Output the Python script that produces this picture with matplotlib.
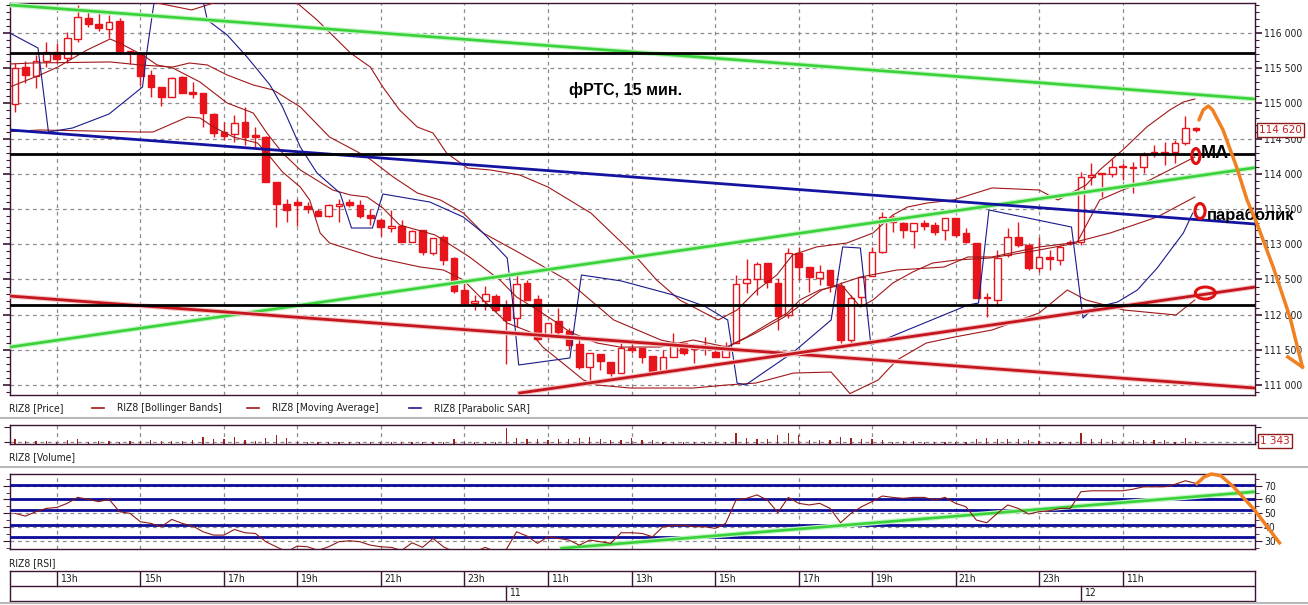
import matplotlib
matplotlib.use('Agg')
import matplotlib.pyplot as plt
from matplotlib import font_manager
from matplotlib.patches import Ellipse
from matplotlib.lines import Line2D
from matplotlib.ticker import MultipleLocator, FuncFormatter, FixedLocator

# ---------------- data ----------------
hour_pos = [4, 12, 20, 27, 35, 43, 51, 59, 67, 75, 82, 90, 98, 106]
hour_lbl = ['13h', '15h', '17h', '19h', '21h', '23h', '11h', '13h', '15h', '17h', '19h', '21h', '23h', '11h']
day_pos = [47, 102]
day_lbl = ['11', '12']

opens = [114992, 115517, 115389, 115602, 115730, 115645, 115915, 116213, 116128, 116057,
         116170, 115744, 115716, 115404, 115233, 115091, 115375, 115162, 115148, 114850,
         114594, 114566, 114736, 114552, 114523, 113884, 113572, 113600, 113543, 113472,
         113401, 113543, 113600, 113558, 113416, 113345, 113231, 113259, 113032, 113203,
         112876, 113103, 112805, 112350, 112166, 112194, 112265, 112123, 111953, 112450,
         112223, 111697, 111910, 111768, 111584, 111257, 111442, 111328, 111172, 111527,
         111527, 111413, 111172, 111400, 111598, 111541, 111570, 111470, 111400, 111598,
         112450, 112507, 112734, 112450, 111995, 112876, 112677, 112521, 112635, 112407,
         111641, 112251, 112549, 112890, 113387, 113302, 113188, 113302, 113274, 113203,
         113373, 113160, 113018, 112237, 112209, 112848, 113103, 112990, 112663, 112820,
         112777, 113018, 113032, 113955, 113998, 114000, 114097, 114083, 114097, 114300,
         114290, 114310, 114438, 114651]
highs = [115574, 115602, 115688, 115872, 115858, 116014, 116398, 116327, 116284, 116256,
         116213, 115744, 115716, 115475, 115233, 115375, 115389, 115304, 115148, 114864,
         114736, 114836, 114949, 114665, 114537, 113884, 113643, 113643, 113600, 113500,
         113572, 113643, 113643, 113629, 113501, 113373, 113487, 113345, 113203, 113203,
         113089, 113132, 112820, 112493, 112280, 112407, 112294, 112209, 112564, 112493,
         112280, 111882, 112095, 111811, 111655, 111456, 111442, 111328, 111598, 111655,
         111527, 111413, 111500, 111740, 111598, 111555, 111683, 111541, 111612, 112564,
         112791, 112748, 112734, 112521, 112947, 112962, 112677, 112706, 112635, 112464,
         112280, 112535, 112962, 113458, 113416, 113316, 113302, 113345, 113316, 113373,
         113373, 113231, 113018, 112308, 112919, 113231, 113316, 113018, 113103, 112919,
         112990, 113060, 114026, 114154, 114000, 114211, 114154, 114168, 114310, 114410,
         114452, 114481, 114821, 114665]
lows = [114878, 115290, 115219, 115517, 115574, 115574, 115872, 116085, 116028, 115929,
        115716, 115560, 115262, 115091, 114963, 115091, 115148, 115077, 114665, 114523,
        114481, 114452, 114410, 114381, 113884, 113245, 113316, 113259, 113444, 113401,
        113387, 113316, 113529, 113373, 113274, 113117, 113174, 113032, 113032, 112848,
        112848, 112706, 112307, 112152, 112067, 112067, 112038, 111300, 111825, 112209,
        111641, 111655, 111712, 111500, 111229, 111030, 111215, 111129, 111172, 111456,
        111314, 111143, 111172, 111400, 111428, 111314, 111428, 111400, 111400, 111598,
        112308, 112280, 112379, 111783, 111953, 112493, 112322, 112422, 112322, 111598,
        111570, 112123, 112549, 112876, 113174, 113089, 112947, 113203, 113132, 113061,
        113103, 113018, 112237, 111967, 112123, 112820, 112962, 112635, 112606, 112635,
        112706, 112990, 112990, 113842, 113671, 113955, 113913, 113729, 114012, 114239,
        114126, 114154, 114410, 114594]
closes = [115503, 115404, 115602, 115730, 115631, 115929, 116227, 116128, 116071, 116156,
          115744, 115716, 115389, 115233, 115091, 115361, 115148, 115134, 114864, 114580,
          114537, 114722, 114523, 114523, 113884, 113572, 113487, 113558, 113501, 113401,
          113558, 113572, 113558, 113401, 113373, 113245, 113259, 113032, 113188, 112890,
          113089, 112777, 112336, 112166, 112194, 112294, 112067, 111925, 112436, 112209,
          111655, 111882, 111754, 111570, 111257, 111456, 111342, 111172, 111527, 111500,
          111400, 111186, 111400, 111598, 111456, 111513, 111541, 111400, 111556, 112436,
          112507, 112720, 112464, 111981, 112876, 112677, 112535, 112606, 112422, 111641,
          112237, 112535, 112890, 113387, 113316, 113203, 113302, 113259, 113174, 113373,
          113132, 113032, 112237, 112251, 112805, 113103, 112990, 112663, 112820, 112791,
          112962, 113032, 113955, 113984, 114000, 114097, 114100, 114085, 114268, 114310,
          114300, 114438, 114651, 114620]

volume = [2100, 1500, 1500, 1500, 900, 1800, 2400, 900, 1500, 1500,
          900, 1500, 1400, 1800, 1500, 1500, 1500, 1800, 3300, 2100,
          2100, 3000, 1800, 1500, 2700, 4050, 2550, 900, 900, 900,
          900, 900, 900, 900, 900, 900, 900, 900, 900, 900,
          900, 900, 2100, 900, 900, 900, 900, 7350, 2550, 2100,
          2100, 1800, 2100, 2100, 2550, 3300, 2100, 1800, 1800, 2550,
          1800, 1800, 900, 900, 900, 900, 900, 900, 900, 4800,
          2550, 2100, 2100, 4050, 4800, 4050, 1800, 1800, 1800, 3300,
          2550, 2100, 2100, 1800, 900, 1500, 1500, 900, 900, 900,
          900, 900, 2100, 2550, 2100, 2100, 2100, 1800, 1500, 900,
          900, 900, 4800, 2100, 2100, 1800, 900, 1800, 1800, 1800,
          1800, 900, 2550, 1343]

rsi = [49.9, 47.9, 51.1, 53.5, 54.2, 57.2, 61.5, 60.1, 58.4, 60.1,
       51.1, 49.9, 43.8, 42.6, 40.2, 45.5, 42.6, 40.7, 36.5, 34.1,
       34.1, 38.2, 35.8, 35.3, 29.3, 25.6, 22.0, 26.1, 25.6, 23.0,
       25.6, 29.3, 30.0, 29.3, 26.8, 25.6, 25.2, 23.0, 28.5, 25.2,
       31.7, 25.6, 22.0, 21.0, 22.0, 25.2, 22.0, 23.5, 36.5, 33.4,
       28.1, 32.9, 31.7, 30.5, 26.8, 30.5, 29.3, 28.1, 35.8, 35.8,
       35.3, 32.9, 40.2, 41.0, 41.4, 40.2, 40.2, 39.0, 42.6, 59.6,
       60.8, 63.3, 59.6, 50.4, 61.5, 57.2, 56.0, 57.2, 53.5, 43.1,
       49.9, 54.7, 58.4, 62.5, 61.5, 60.8, 61.5, 61.5, 59.6, 61.5,
       57.2, 54.7, 45.0, 43.1, 49.9, 56.0, 53.5, 49.4, 51.1, 51.8,
       53.5, 53.5, 65.6, 66.3, 66.3, 66.3, 66.3, 67.5, 69.2, 69.2,
       69.2, 71.0, 73.6, 71.6]

# Bollinger bands, moving average, parabolic SAR (vertices of the drawn lines)
ub_x = [-0.5, 6, 11, 13.6, 16.9, 19, 22, 25, 27, 28.9, 32.1, 34, 35.2, 36.8, 38.5, 40, 41.3,
        43.3, 45.5, 48.3, 51, 55.1, 59.1, 61.4, 63.6, 67.3, 69.1, 71, 72.9, 74.4, 76.7, 79.6,
        82.1, 84, 85.4, 87.3, 89.8, 93.5, 98, 99.8, 102.5, 103.8, 106, 108.3, 110.5, 111.8, 112.9]
ub_y = [116700, 116650, 116550, 116426, 116327, 116426, 116700, 116700, 116426, 116185,
        115716, 115517, 115233, 114907, 114665, 114580, 114296, 114083, 114055, 113984,
        113813, 113444, 112876, 112493, 112209, 111925, 112067, 112351, 112564, 112848,
        112962, 113018, 113160, 113416, 113529, 113586, 113629, 113800, 113771, 113629,
        113842, 114055, 114339, 114665, 114907, 115020, 115063]
mb_x = [-0.5, 1.7, 9.1, 12, 15.1, 16.7, 18.4, 20.3, 22.8, 24.7, 27.3, 30.1, 33.7, 36.2, 38.5,
        40.7, 42.9, 44.8, 48.3, 52.8, 57.3, 61.8, 66.4, 68.2, 70.9, 73.6, 77.2, 80.9, 84.4,
        88.9, 91.2, 93.5, 98, 101.1, 104.8, 109.3, 112.9]
mb_y = [115560, 115574, 115589, 115546, 115517, 115574, 115546, 115404, 115262, 115191,
        114950, 114523, 114239, 113955, 113728, 113629, 113444, 113160, 112876, 112493,
        111925, 111641, 111499, 111541, 111740, 111967, 112351, 112535, 112635, 112677,
        112820, 112820, 112962, 113018, 113160, 113387, 113671]
lb_x = [-0.5, 2.4, 12, 13.2, 16.5, 17.7, 19, 20.9, 23.2, 24.1, 25.6, 27.3, 28.2, 29.2, 30.1,
        34.3, 38.8, 41, 42.9, 44.8, 47.1, 49.3, 50.5, 52.4, 54.4, 55.7, 58.9, 61.7, 64.9, 68.1,
        70.9, 74.5, 78.1, 79.9, 82.6, 84.4, 87.2, 89.9, 93.5, 98, 100.7, 102.5, 106.1, 111.1, 112.9]
lb_y = [114600, 114623, 114594, 114594, 114807, 114793, 114665, 114523, 114438, 114296,
        114026, 113813, 113629, 113160, 113018, 112819, 112677, 112635, 112493, 112209,
        111882, 111754, 111541, 111314, 111073, 111002, 110959, 110959, 110959, 111002,
        111030, 111172, 111186, 110880, 111073, 111357, 111598, 111683, 111783, 112024,
        112351, 112209, 112067, 111996, 112209]
ma_x = [-0.5, 2.4, 4.1, 6.9, 9.1, 10, 12.2, 13.6, 15.1, 17.7, 20.3, 22.8, 24.1, 25.6, 27.3,
        30.4, 32.1, 33.7, 35.2, 36.8, 38.5, 40.2, 43.5, 46.4, 48, 50, 51.9, 53.1, 55.7, 57.9,
        61.7, 64.9, 68.1, 70, 72.2, 73.9, 75.1, 77, 79.1, 80.9, 82.1, 84, 85.9, 87.8, 90.1,
        93.3, 98, 101.6, 103.8, 106, 108.6, 112.9]
ma_y = [115233, 115404, 115517, 115759, 115915, 115858, 115688, 115546, 115503, 115304,
        115006, 114864, 114580, 114296, 114055, 113771, 113700, 113671, 113515, 113274,
        113203, 113132, 112819, 112493, 112251, 112067, 111882, 111754, 111598, 111541,
        111541, 111641, 111541, 111683, 111882, 112024, 112209, 112351, 112422, 112109,
        112209, 112450, 112606, 112734, 112777, 112805, 112919, 113018, 113629, 113771,
        113913, 114239]
sar_x = [-0.5, 2.2, 3.2, 5.5, 9, 12.2, 12.6, 13.3, 14.5, 17.5, 18.4, 20.3, 22.2, 24.4, 25.6,
         27.3, 28.9, 31.1, 32.2, 34.2, 35.2, 39.7, 42.9, 44.8, 47.1, 47.6, 48.2, 53.1, 54.2,
         58, 63, 66, 68.2, 69.1, 69.9, 74.5, 78.1, 79.2, 80.9, 81.9, 91.2, 92.2, 93.2, 101.1,
         102.2, 103.2, 105.5, 107.4, 109.3, 110.8, 111.8, 112.7]
sar_y = [116000, 115787, 114594, 114651, 114850, 115233, 115716, 116426, 116800, 116800,
         116185, 115972, 115660, 115262, 114950, 114381, 114012, 113728, 113231, 113231,
         113714, 113600, 113387, 113160, 112805, 112209, 111286, 111386, 112564, 112480,
         112280, 112120, 111925, 111030, 111002, 111470, 111925, 112962, 112947, 111570,
         112138, 112166, 113487, 113245, 111953, 112095, 112180, 112351, 112663, 112962,
         113160, 113444]

# hand drawn lines
XL = (-0.48, 118.66)
green_hi = [116398, 115063]
green_lo = [111541, 114088]
blue_tl = [114623, 113288]
red_dn = [112265, 110959]
red_up_x = [48.3, 118.66]
red_up_y = [110888, 112393]
black_lv = [115710, 114282, 112145]
rsi_levels = [70.5, 60.3, 52.3, 41.2, 32.7]
rsi_green_x = [52.3, 118.66]
rsi_green_y = [24.5, 65.6]
orange_x = [113.3, 113.7, 114.2, 114.6, 115.6, 116.9, 117.9, 118.9, 120.4, 122.0, 123.2]
orange_y = [114765, 114907, 114964, 114907, 114623, 114097, 113629, 113274, 112677, 111967, 111257]
orange_rsi_x = [113.1, 113.8, 114.5, 115.4, 116.6, 118.6, 121.0]
orange_rsi_y = [71.6, 76.4, 78.5, 77.2, 69.2, 52.5, 28.5]

# ---------------- style ----------------
W, H = 1308, 605
RED = '#e8141c'
THIN = '#a01818'
FRAME = '#3c1434'
GRIDKW = dict(color='#8c8c8c', lw=0.9, ls=(0, (3, 3)), zorder=0.5)

names = {f.name for f in font_manager.fontManager.ttflist}
if 'Liberation Sans Narrow' in names:
    SMALL = dict(family='Liberation Sans Narrow', size=9.5)
else:
    SMALL = dict(family='DejaVu Sans', stretch='condensed', size=7.5)
BOLD = dict(family='Liberation Sans', weight='bold')


def px_box(x0, y0, x1, y1):
    return [x0 / W, 1 - y1 / H, (x1 - x0) / W, (y1 - y0) / H]


def fx(px):
    return px / W


def fy(py):
    return 1 - py / H


def frame(a):
    for s in a.spines.values():
        s.set_color(FRAME)
        s.set_linewidth(1)


fig = plt.figure(figsize=(W / 100, H / 100), dpi=100)
fig.patch.set_facecolor('white')

# ---------------- price panel ----------------
ax = fig.add_axes(px_box(10, 3, 1255, 395))
ax.set_xlim(*XL)
ax.set_ylim(110860, 116426)
frame(ax)
for p in range(111000, 116001, 500):
    ax.axhline(p, **GRIDKW)
for t in hour_pos:
    ax.axvline(t, **GRIDKW)

for i in range(len(opens)):
    o, h, l, c = opens[i], highs[i], lows[i], closes[i]
    ax.vlines(i, l, h, color=RED, lw=1, zorder=2)
    body = max(abs(c - o), 14)
    fc = 'white' if c > o else RED
    ax.bar(i, body, bottom=min(o, c), width=0.64, facecolor=fc, edgecolor=RED, lw=1, zorder=3)

ax.plot(ub_x, ub_y, color=THIN, lw=0.8, zorder=4)
ax.plot(mb_x, mb_y, color=THIN, lw=0.8, zorder=4)
ax.plot(lb_x, lb_y, color=THIN, lw=0.8, zorder=4)
ax.plot(ma_x, ma_y, color=THIN, lw=0.8, zorder=4)
ax.plot(sar_x, sar_y, color='#1a1a8c', lw=0.8, zorder=4)

# trend lines with a soft halo
ax.plot(XL, green_hi, color='#c4f5c4', lw=3.6, zorder=5)
ax.plot(XL, green_hi, color='#3ad23a', lw=1.9, zorder=5)
ax.plot(XL, green_lo, color='#c4f5c4', lw=3.6, zorder=5)
ax.plot(XL, green_lo, color='#3ad23a', lw=1.9, zorder=5)
ax.plot(XL, red_dn, color='#f5c4c4', lw=3.6, zorder=5)
ax.plot(XL, red_dn, color='#c4161e', lw=2.0, zorder=5)
ax.plot(red_up_x, red_up_y, color='#f5c4c4', lw=3.6, zorder=5)
ax.plot(red_up_x, red_up_y, color='#c4161e', lw=2.0, zorder=5)
ax.plot(XL, blue_tl, color='#1414a0', lw=2.0, zorder=5)
for p in black_lv:
    ax.axhline(p, color='black', lw=2.0, zorder=5)

ax.set_xticks([])
ax.yaxis.set_major_locator(MultipleLocator(500))
ax.yaxis.set_minor_locator(MultipleLocator(100))
ax.yaxis.set_major_formatter(FuncFormatter(lambda v, _: f'{int(v):,}'.replace(',', ' ')))
ax.tick_params(axis='y', which='both', left=True, right=True, labelleft=False, labelright=True,
               direction='out', color=FRAME, labelcolor='#1e1e1e', pad=1.5)
ax.tick_params(axis='y', which='major', length=5, width=1.2)
ax.tick_params(axis='y', which='minor', length=3, width=0.8)
for lab in ax.get_yticklabels():
    lab.set_fontfamily(SMALL['family'])
    lab.set_fontsize(SMALL['size'])
    if 'stretch' in SMALL:
        lab.set_fontstretch(SMALL['stretch'])

ax.text(1.003, 114620, '114 620', transform=ax.get_yaxis_transform(), ha='left', va='center',
        color='#c81e1e', fontsize=SMALL['size'], family=SMALL['family'], zorder=10, clip_on=False,
        bbox=dict(boxstyle='square,pad=0.2', fc='white', ec='#8b1a1a', lw=1))

# annotations
ax.text(53.0, 115191, 'фРТС, 15 мин.', fontsize=11.5, ha='left', va='center', zorder=8, **BOLD)
ax.text(113.5, 114296, 'MA', fontsize=13, ha='left', va='center', zorder=8, clip_on=False, **BOLD)
ax.text(114.07, 113416, 'параболик', fontsize=12, ha='left', va='center', zorder=8, clip_on=False, **BOLD)
for cx, cy, ew, eh in [(113.0, 114253, 0.77, 213), (113.4, 113472, 0.96, 213), (113.9, 112308, 1.9, 170)]:
    ax.add_patch(Ellipse((cx, cy), ew, eh, fill=False, ec='#e01010', lw=2.2, zorder=9, clip_on=False))
ax.plot(orange_x, orange_y, color='#f08020', lw=2.5, zorder=9, clip_on=False, solid_capstyle='round')
ax.plot([121.8, 123.2], [111400, 111257], color='#f08020', lw=2.5, zorder=9, clip_on=False)

# ---------------- volume panel ----------------
axv = fig.add_axes(px_box(10, 425, 1255, 444))
axv.set_xlim(*XL)
axv.set_ylim(0, 8550)
frame(axv)
for t in hour_pos:
    axv.axvline(t, **GRIDKW)
axv.axhline(900, **GRIDKW)
axv.bar(range(len(volume)), volume, width=0.12, color='#a02020', zorder=2)
axv.set_xticks([])
axv.yaxis.set_major_locator(FixedLocator([900, 7650]))
axv.tick_params(axis='y', left=True, right=True, labelleft=False, labelright=False,
                direction='out', color=FRAME, length=4)
axv.text(1.004, 1343, '1 343', transform=axv.get_yaxis_transform(), ha='left', va='center',
         color='#c81e1e', fontsize=SMALL['size'], family=SMALL['family'], zorder=10, clip_on=False,
         bbox=dict(boxstyle='square,pad=0.2', fc='white', ec='#8b1a1a', lw=1))

# ---------------- RSI panel ----------------
axr = fig.add_axes(px_box(10, 474, 1255, 549))
axr.set_xlim(*XL)
axr.set_ylim(24.0, 78.5)
frame(axr)
for t in hour_pos:
    axr.axvline(t, **GRIDKW)
for lv in [30, 40, 50, 60, 70]:
    axr.axhline(lv, **GRIDKW)
for lv in rsi_levels:
    axr.axhline(lv, color='#0c0c9a', lw=2.0, zorder=3)
axr.plot(rsi_green_x, rsi_green_y, color='#c4f5c4', lw=3.6, zorder=4)
axr.plot(rsi_green_x, rsi_green_y, color='#3ad23a', lw=1.9, zorder=4)
axr.plot(range(len(rsi)), rsi, color='#8b1a1a', lw=0.8, zorder=5)
axr.plot(orange_rsi_x, orange_rsi_y, color='#f08020', lw=2.5, zorder=9, clip_on=False)
axr.set_xticks([])
axr.yaxis.set_major_locator(FixedLocator([30, 40, 50, 60, 70]))
axr.yaxis.set_minor_locator(MultipleLocator(5))
axr.tick_params(axis='y', which='both', left=True, right=True, labelleft=False, labelright=True,
                direction='out', color=FRAME, labelcolor='#1e1e1e', pad=1.5)
axr.tick_params(axis='y', which='major', length=5)
axr.tick_params(axis='y', which='minor', length=3)
for lab in axr.get_yticklabels():
    lab.set_fontfamily(SMALL['family'])
    lab.set_fontsize(SMALL['size'])
    if 'stretch' in SMALL:
        lab.set_fontstretch(SMALL['stretch'])

# ---------------- time axis ----------------
axt = fig.add_axes(px_box(10, 571, 1255, 601))
axt.set_xlim(*XL)
axt.set_ylim(0, 2)
frame(axt)
axt.set_xticks([])
axt.set_yticks([])
axt.axhline(1, color=FRAME, lw=1)
for t, lab in zip(hour_pos, hour_lbl):
    axt.plot([t, t], [1, 2], color=FRAME, lw=1)
    axt.text(t + 0.3, 1.5, lab, ha='left', va='center', color='#1e1e1e', **SMALL)
for d, lab in zip(day_pos, day_lbl):
    axt.plot([d, d], [0, 1], color=FRAME, lw=1)
    axt.text(d + 0.3, 0.5, lab, ha='left', va='center', color='#1e1e1e', **SMALL)

# ---------------- legend rows and separators ----------------
fig.text(fx(9), fy(408), 'RIZ8 [Price]', ha='left', va='center', color='#1e1e1e', **SMALL)
for x0, txt, col in [(92, 'RIZ8 [Bollinger Bands]', THIN), (247, 'RIZ8 [Moving Average]', THIN),
                     (409, 'RIZ8 [Parabolic SAR]', '#1a1a8c')]:
    fig.add_artist(Line2D([fx(x0), fx(x0 + 12)], [fy(408), fy(408)], color=col, lw=1.2,
                          transform=fig.transFigure))
    fig.text(fx(x0 + 25), fy(408), txt, ha='left', va='center', color='#1e1e1e', **SMALL)
fig.text(fx(9), fy(457), 'RIZ8 [Volume]', ha='left', va='center', color='#1e1e1e', **SMALL)
fig.text(fx(9), fy(563), 'RIZ8 [RSI]', ha='left', va='center', color='#1e1e1e', **SMALL)
for py in [418, 467, 603]:
    fig.add_artist(Line2D([0, 1], [fy(py), fy(py)], color='#b8b8b8', lw=1.5,
                          transform=fig.transFigure))

fig.savefig('out.png', dpi=100, facecolor='white')
